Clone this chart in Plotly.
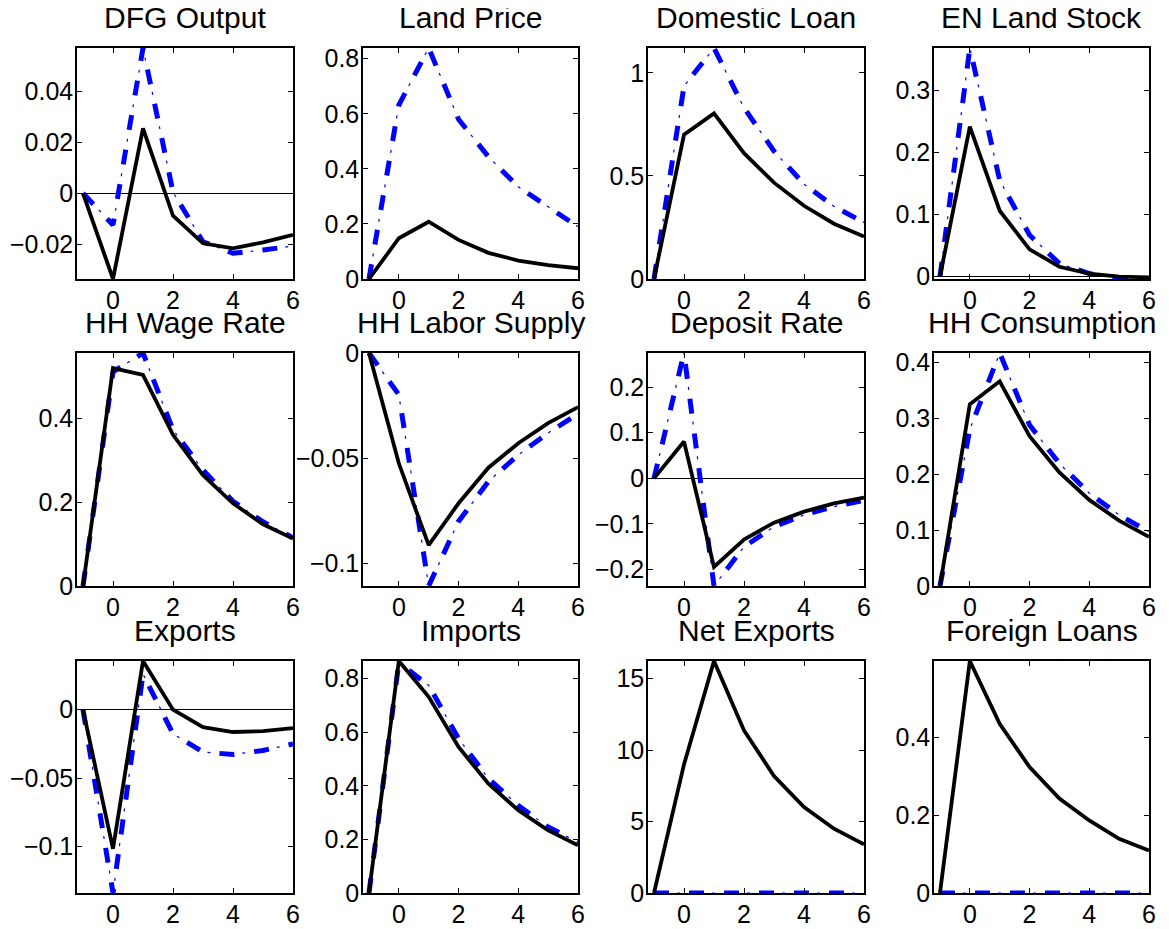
import plotly.graph_objects as go

# ---------------- data ----------------
periods = [-1, 0, 1, 2, 3, 4, 5, 6]
x_tick_vals = [0, 2, 4, 6]

titles = ["DFG Output", "Land Price", "Domestic Loan", "EN Land Stock",
          "HH Wage Rate", "HH Labor Supply", "Deposit Rate", "HH Consumption",
          "Exports", "Imports", "Net Exports", "Foreign Loans"]

dfg_output_black = [0, -0.0336, 0.0255, -0.0088, -0.0196, -0.0216, -0.0192, -0.0163]
dfg_output_blue = [0, -0.0124, 0.0570, 0.0005, -0.0190, -0.0235, -0.0222, -0.0207]

land_price_black = [0, 0.148, 0.208, 0.142, 0.095, 0.067, 0.050, 0.039]
land_price_blue = [0, 0.632, 0.839, 0.580, 0.444, 0.335, 0.262, 0.190]

domestic_loan_black = [0, 0.700, 0.803, 0.610, 0.467, 0.355, 0.268, 0.206]
domestic_loan_blue = [0, 0.935, 1.120, 0.830, 0.620, 0.460, 0.352, 0.274]

land_stock_black = [0, 0.241, 0.106, 0.044, 0.016, 0.005, 0.000, -0.001]
land_stock_blue = [0, 0.3675, 0.155, 0.067, 0.021, 0.005, -0.002, -0.0037]

wage_rate_black = [0, 0.519, 0.503, 0.360, 0.264, 0.197, 0.147, 0.113]
wage_rate_blue = [0, 0.510, 0.555, 0.372, 0.276, 0.202, 0.153, 0.115]

labor_supply_black = [0, -0.0524, -0.0913, -0.0714, -0.0545, -0.0429, -0.0333, -0.0257]
labor_supply_blue = [0, -0.0198, -0.1107, -0.0800, -0.0610, -0.0484, -0.0380, -0.0289]

deposit_rate_black = [0, 0.0806, -0.194, -0.134, -0.097, -0.073, -0.055, -0.042]
deposit_rate_blue = [0, 0.2747, -0.2359, -0.150, -0.106, -0.080, -0.062, -0.048]

consumption_black = [0, 0.325, 0.366, 0.268, 0.203, 0.154, 0.117, 0.088]
consumption_blue = [0, 0.280, 0.4167, 0.288, 0.219, 0.166, 0.127, 0.097]

exports_black = [0, -0.1017, 0.0356, 0.0000, -0.0127, -0.0163, -0.0157, -0.0134]
exports_blue = [0, -0.1340, 0.0260, -0.0176, -0.0310, -0.0327, -0.0298, -0.0250]

imports_black = [0, 0.866, 0.732, 0.545, 0.408, 0.309, 0.234, 0.178]
imports_blue = [0, 0.860, 0.775, 0.576, 0.427, 0.327, 0.246, 0.190]

net_exports_black = [0, 9.0, 16.24, 11.38, 8.19, 6.02, 4.50, 3.40]
net_exports_blue = [0, 0, 0, 0, 0, 0, 0, 0]

foreign_loans_black = [0, 0.595, 0.434, 0.323, 0.242, 0.186, 0.139, 0.109]
foreign_loans_blue = [0, 0, 0, 0, 0, 0, 0, 0]

y_tick_vals = [
    [-0.02, 0, 0.02, 0.04],
    [0, 0.2, 0.4, 0.6, 0.8],
    [0, 0.5, 1],
    [0, 0.1, 0.2, 0.3],
    [0, 0.2, 0.4],
    [-0.1, -0.05, 0],
    [-0.2, -0.1, 0, 0.1, 0.2],
    [0, 0.1, 0.2, 0.3, 0.4],
    [-0.1, -0.05, 0],
    [0, 0.2, 0.4, 0.6, 0.8],
    [0, 5, 10, 15],
    [0, 0.2, 0.4],
]

black_series = [dfg_output_black, land_price_black, domestic_loan_black, land_stock_black,
                wage_rate_black, labor_supply_black, deposit_rate_black, consumption_black,
                exports_black, imports_black, net_exports_black, foreign_loans_black]
blue_series = [dfg_output_blue, land_price_blue, domestic_loan_blue, land_stock_blue,
               wage_rate_blue, labor_supply_blue, deposit_rate_blue, consumption_blue,
               exports_blue, imports_blue, net_exports_blue, foreign_loans_blue]

# ---------------- layout geometry ----------------
# the page body has an 8px margin, so the figure is offset by 8px
OFF = 8
W, H = 1169 - OFF, 929 - OFF
col_px = [(77, 293), (363, 578), (648, 864), (934, 1149)]
row_px = [(48, 279), (353, 586), (661, 893)]

FONT = "Liberation Sans, Arial, Helvetica, sans-serif"


def fmt(v):
    if v == 0:
        return "0"
    s = ("%g" % abs(v))
    return ("\u2212" + s) if v < 0 else s


fig = go.Figure()
annotations = []
layout = dict(
    width=W, height=H,
    margin=dict(l=0, r=0, t=0, b=0, autoexpand=False),
    paper_bgcolor="white", plot_bgcolor="white",
    showlegend=False,
    font=dict(family=FONT, color="black", size=25),
)

for i in range(12):
    r, c = divmod(i, 4)
    n = i + 1
    xa = "x" if n == 1 else "x%d" % n
    ya = "y" if n == 1 else "y%d" % n
    x0, x1 = col_px[c]
    t0, t1 = row_px[r]
    xdom = [(x0 - OFF) / W, (x1 - OFF) / W]
    ydom = [1 - (t1 - OFF) / H, 1 - (t0 - OFF) / H]

    blk = black_series[i]
    blu = blue_series[i]
    lo = min(min(blk), min(blu))
    hi = max(max(blk), max(blu))

    # blue: thick dashes + thin dots in the gaps (MATLAB '-.' look)
    fig.add_trace(go.Scatter(x=periods, y=blu, mode="lines", xaxis=xa, yaxis=ya,
                             line=dict(color="#0000ff", width=5, dash="15px,20px"),
                             hoverinfo="skip"))
    fig.add_trace(go.Scatter(x=periods, y=blu, mode="lines", xaxis=xa, yaxis=ya,
                             line=dict(color="#0000ff", width=1.2, dash="0px,23px,3px,9px"),
                             hoverinfo="skip"))
    fig.add_trace(go.Scatter(x=periods, y=blk, mode="lines", xaxis=xa, yaxis=ya,
                             line=dict(color="black", width=3.8),
                             hoverinfo="skip"))

    common = dict(showgrid=False, ticks="inside", ticklen=5, tickwidth=1,
                  tickcolor="black", showline=True, linecolor="black", linewidth=1.5,
                  mirror="allticks", automargin=False,
                  tickfont=dict(size=25, family=FONT, color="black"))
    layout["xaxis" if n == 1 else "xaxis%d" % n] = dict(
        domain=xdom, anchor=ya, range=[-1.2, 6], tickvals=x_tick_vals,
        ticktext=[fmt(v) for v in x_tick_vals], zeroline=False,
        ticklabelstandoff=-2, **common)
    layout["yaxis" if n == 1 else "yaxis%d" % n] = dict(
        domain=ydom, anchor=xa, range=[lo, hi], tickvals=y_tick_vals[i],
        ticktext=[fmt(v) for v in y_tick_vals[i]],
        zeroline=True, zerolinecolor="black", zerolinewidth=1,
        ticklabelstandoff=-3, **common)

    annotations.append(dict(text=titles[i], x=(xdom[0] + xdom[1]) / 2, y=ydom[1],
                            xref="paper", yref="paper", xanchor="center", yanchor="bottom",
                            yshift=12, showarrow=False,
                            font=dict(size=30, family=FONT, color="black")))

layout["annotations"] = annotations
fig.update_layout(**layout)
fig.write_html("out.html")
